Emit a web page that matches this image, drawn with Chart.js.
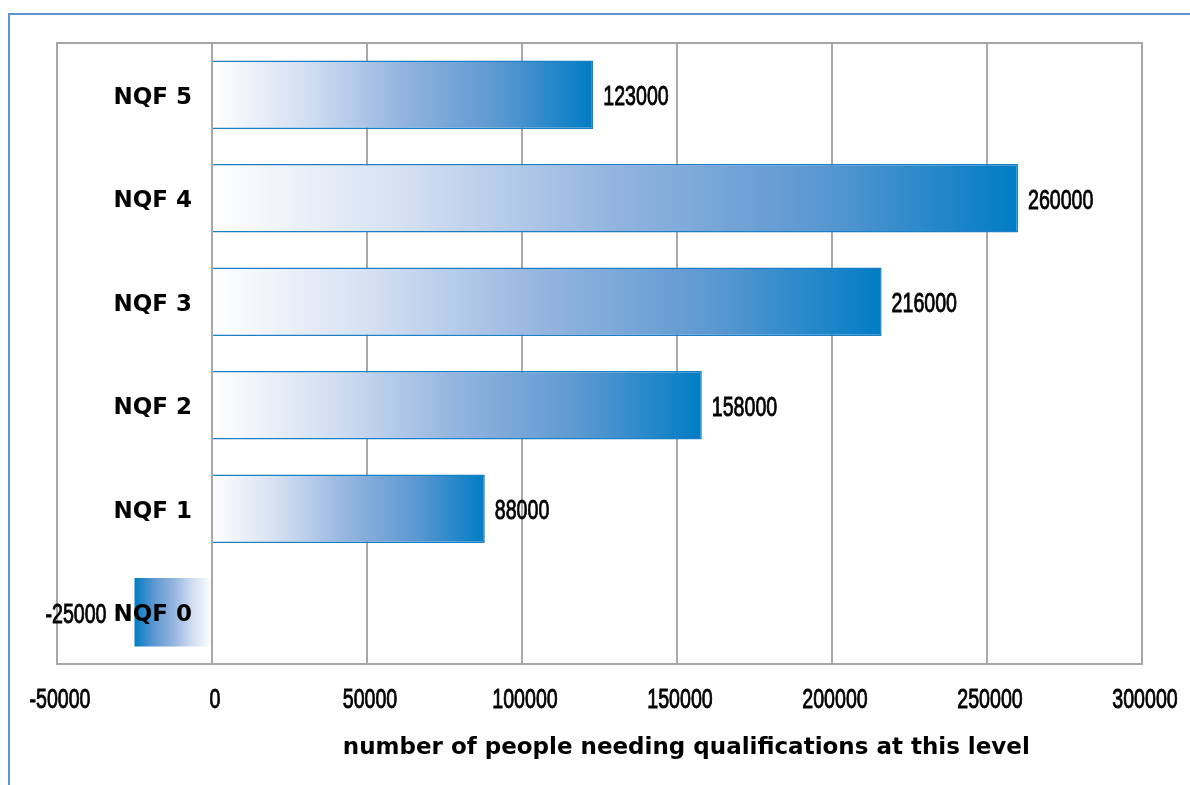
<!DOCTYPE html>
<html>
<head>
<meta charset="utf-8">
<title>Qualifications needed by NQF level</title>
<script src="https://cdn.jsdelivr.net/npm/chart.js@4.4.1/dist/chart.umd.min.js"></script>
<style>
  html, body { margin: 0; padding: 0; background: #fff; }
  #wrap { position: relative; width: 1190px; height: 785px; overflow: hidden; }
  #frame {
    position: absolute; left: 8px; top: 13px; width: 1300px; height: 900px;
    border-left: 2px solid #5a97d2; border-top: 2px solid #5a97d2;
    pointer-events: none;
  }
</style>
</head>
<body>
<div id="wrap">
  <canvas id="chart"></canvas>
  <div id="frame"></div>
</div>
<script>
// NQF levels, top to bottom as in the picture
const categories = ['NQF 5', 'NQF 4', 'NQF 3', 'NQF 2', 'NQF 1', 'NQF 0'];
const peopleNeeded = [123000, 260000, 216000, 158000, 88000, -25000];
const axisMin = -50000;
const axisMax = 300000;
const axisStep = 50000;
const axisTitle = 'number of people needing qualifications at this level';

const numFont = '"Liberation Sans", Arial, sans-serif';
const boldFont = '"DejaVu Sans", Verdana, sans-serif';

// the numbers in the picture use a tall condensed face, so squeeze a normal one
function narrowText(ctx, text, x, y, align) {
  ctx.save();
  ctx.font = '28px ' + numFont;
  ctx.fillStyle = '#000';
  ctx.strokeStyle = '#000';
  ctx.lineWidth = 0.9;
  ctx.textBaseline = 'middle';
  ctx.textAlign = align;
  ctx.translate(x, y);
  ctx.scale(0.7, 1);
  ctx.fillText(text, 0, 0);
  ctx.strokeText(text, 0, 0);
  ctx.restore();
}

// gradient runs from zero (pale) to the end of each bar (blue)
function barGradient(ctx) {
  const chart = ctx.chart;
  if (!chart.chartArea || ctx.type !== 'data') {
    return '#8fb1de';
  }
  const x = chart.scales.x;
  const x0 = x.getPixelForValue(0);
  const x1 = x.getPixelForValue(ctx.raw);
  const g = chart.ctx.createLinearGradient(x0, 0, x1, 0);
  g.addColorStop(0, '#ffffff');
  g.addColorStop(0.25, '#d2def1');
  g.addColorStop(0.5, '#93b4df');
  g.addColorStop(0.75, '#5c98d1');
  g.addColorStop(1, '#007cc4');
  return g;
}

// frame round the plot, tick numbers, category names, value labels and axis title
const decorations = {
  id: 'decorations',
  beforeDatasetsDraw(chart) {
    const { ctx, chartArea } = chart;
    ctx.save();
    ctx.strokeStyle = '#a6a6a6';
    ctx.lineWidth = 2;
    ctx.strokeRect(chartArea.left, chartArea.top, chartArea.width, chartArea.height);
    ctx.restore();
  },
  afterDatasetsDraw(chart) {
    const { ctx, chartArea } = chart;
    const x = chart.scales.x;
    const y = chart.scales.y;
    const zero = x.getPixelForValue(0);

    x.ticks.forEach(t => {
      narrowText(ctx, String(t.value), x.getPixelForValue(t.value) + 3, chartArea.bottom + 36, 'center');
    });

    ctx.save();
    ctx.fillStyle = '#000';
    ctx.textBaseline = 'middle';
    ctx.font = 'bold 23px ' + boldFont;
    ctx.textAlign = 'right';
    categories.forEach((c, i) => {
      ctx.fillText(c, zero - 20, y.getPixelForValue(i) + 3);
    });
    ctx.restore();

    peopleNeeded.forEach((v, i) => {
      const end = x.getPixelForValue(v);
      const yy = y.getPixelForValue(i) + 3;
      if (v >= 0) {
        narrowText(ctx, String(v), end + 10, yy, 'left');
      } else {
        narrowText(ctx, String(v), end - 28, yy, 'right');
      }
    });

    ctx.save();
    ctx.fillStyle = '#000';
    ctx.textBaseline = 'middle';
    ctx.font = 'bold 23px ' + boldFont;
    ctx.textAlign = 'center';
    ctx.fillText(axisTitle, chartArea.left + chartArea.width * 0.58, 748);
    ctx.restore();
  }
};

const chart = new Chart(document.getElementById('chart'), {
  type: 'bar',
  data: {
    labels: categories,
    datasets: [{
      data: peopleNeeded,
      backgroundColor: barGradient,
      borderColor: ctx => (ctx.raw < 0 ? 'rgba(0,0,0,0)' : '#1a7fc4'),
      borderWidth: ctx => (ctx.raw < 0 ? 0 : 1.5),
      categoryPercentage: 1,
      barPercentage: 0.66
    }]
  },
  options: {
    indexAxis: 'y',
    responsive: true,
    maintainAspectRatio: false,
    animation: false,
    layout: { padding: { left: 57, top: 43, right: 48, bottom: 0 } },
    plugins: {
      legend: { display: false },
      tooltip: { enabled: false }
    },
    scales: {
      x: {
        min: axisMin,
        max: axisMax,
        afterFit: scale => {
          scale.height = 121;
          scale.paddingLeft = 0;
          scale.paddingRight = 0;
        },
        grid: { color: '#a8a8a8', lineWidth: 2, drawTicks: false },
        border: { display: false },
        ticks: {
          stepSize: axisStep,
          display: false
        }
      },
      y: {
        display: false
      }
    }
  },
  plugins: [decorations]
});
</script>
</body>
</html>
